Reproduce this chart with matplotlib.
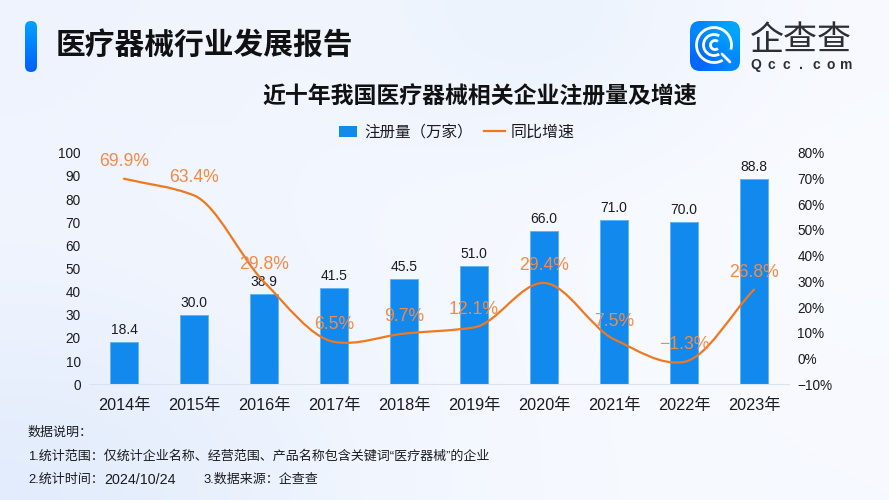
import numpy as np
import matplotlib
matplotlib.use("Agg")
import matplotlib.pyplot as plt
from matplotlib.patches import Arc, FancyBboxPatch, PathPatch, Rectangle
from matplotlib.path import Path
from matplotlib.lines import Line2D

plt.rcParams['font.family'] = ['Liberation Sans', 'Noto Sans CJK SC', 'DejaVu Sans']

years = ["2014年", "2015年", "2016年", "2017年", "2018年", "2019年", "2020年", "2021年", "2022年", "2023年"]
registered = [18.4, 30.0, 38.9, 41.5, 45.5, 51.0, 66.0, 71.0, 70.0, 88.8]
growth = [69.9, 63.4, 29.8, 6.5, 9.7, 12.1, 29.4, 7.5, -1.3, 26.8]
growth_labels = ["69.9%", "63.4%", "29.8%", "6.5%", "9.7%", "12.1%", "29.4%", "7.5%", "−1.3%", "26.8%"]
left_ticks = [0, 10, 20, 30, 40, 50, 60, 70, 80, 90, 100]
right_ticks = [-10, 0, 10, 20, 30, 40, 50, 60, 70, 80]
right_tick_labels = ["−10%", "0%", "10%", "20%", "30%", "40%", "50%", "60%", "70%", "80%"]

W, H = 889, 500
BAR_COLOR = "#1289ec"
LINE_COLOR = "#f0781f"
LABEL_ORANGE = "#f58a45"
INK = "#1c1c1e"


# smooth line through the values, drawn as bezier segments
def smooth_path(ys):
    ys = np.array(ys, dtype=float)
    d = np.diff(ys)
    m = np.zeros(len(ys))
    m[0] = d[0]
    m[-1] = d[-1]
    for i in range(1, len(ys) - 1):
        if d[i - 1] * d[i] > 0:
            m[i] = 2 * d[i - 1] * d[i] / (d[i - 1] + d[i])
        else:
            m[i] = (d[i - 1] + d[i]) / 4
    verts = [(0, ys[0])]
    codes = [Path.MOVETO]
    for i in range(len(ys) - 1):
        verts.append((i + 1 / 3, ys[i] + m[i] / 3))
        verts.append((i + 2 / 3, ys[i + 1] - m[i + 1] / 3))
        verts.append((i + 1, ys[i + 1]))
        codes += [Path.CURVE4, Path.CURVE4, Path.CURVE4]
    return Path(verts, codes)


fig = plt.figure(figsize=(W / 100, H / 100), dpi=100)

# page layer in pixel coordinates: background, header, logo, notes
page = fig.add_axes([0, 0, 1, 1], zorder=0)
page.set_xlim(0, W)
page.set_ylim(H, 0)
page.axis("off")

bg = np.array([
    [[238, 243, 254], [243, 247, 254], [232, 240, 253], [248, 250, 255]],
    [[240, 245, 254], [243, 247, 254], [246, 249, 255], [249, 251, 255]],
    [[238, 243, 254], [242, 246, 254], [246, 249, 255], [248, 250, 255]],
    [[226, 236, 252], [240, 245, 254], [246, 249, 255], [247, 250, 255]],
]) / 255
page.imshow(bg, extent=(0, W, H, 0), aspect="auto", interpolation="bicubic", zorder=0)

# title pill
pill = FancyBboxPatch((25, 21), 12, 51, boxstyle="round,pad=0,rounding_size=6", fc="none", ec="none", zorder=2)
page.add_patch(pill)
pill_img = page.imshow(np.linspace(0, 1, 64)[:, None], extent=(25, 37, 72, 21), aspect="auto", zorder=2,
                       cmap=matplotlib.colors.LinearSegmentedColormap.from_list("p", ["#00a2ff", "#0060ff"]))
pill_img.set_clip_path(pill)
page.text(56, 45, "医疗器械行业发展报告", fontsize=21.4, fontweight="bold", color="#111111", va="center", ha="left",
          family=['Noto Sans CJK SC'], zorder=3)

# logo
logo = FancyBboxPatch((690, 21), 50, 50, boxstyle="round,pad=0,rounding_size=10", fc="none", ec="none", zorder=2)
page.add_patch(logo)
logo_img = page.imshow(np.array([[0.5, 1.0], [0.0, 0.5]]), extent=(690, 740, 71, 21), aspect="auto", zorder=2,
                       interpolation="bilinear",
                       cmap=matplotlib.colors.LinearSegmentedColormap.from_list("l", ["#0068ff", "#00a4ff"]))
logo_img.set_clip_path(logo)
page.add_patch(Arc((714, 45), 35, 35, theta1=60, theta2=15, color="white", lw=2, zorder=3))
page.add_patch(Arc((714, 45), 21, 21, theta1=60, theta2=300, color="white", lw=2, zorder=3))
page.add_patch(Arc((715, 45), 9, 9, theta1=50, theta2=310, color="white", lw=2, zorder=3))
page.plot([722, 730], [54, 62], color="white", lw=2, solid_capstyle="round", zorder=3)
page.text(801, 40, "企查查", fontsize=24.5, color="#2c2f33", ha="center", va="center",
          family=['Noto Sans CJK SC'], zorder=3)
for cx, ch in zip(np.linspace(756, 846, 7), "Qcc.com"):
    page.text(cx, 65, ch, fontsize=10, fontweight="bold", color="#2c2f33", ha="center", va="center", zorder=3)

page.text(480, 97, "近十年我国医疗器械相关企业注册量及增速", fontsize=16.5, fontweight="bold", color="#111111",
          ha="center", va="center", family=['Noto Sans CJK SC'], zorder=3)

# legend
page.add_patch(Rectangle((339, 126), 18, 11, fc=BAR_COLOR, ec="none", zorder=3))
page.text(364, 132, "注册量（万家）", fontsize=11.2, color=INK, ha="left", va="center", zorder=3)
page.add_line(Line2D([484, 505], [131, 131], color=LINE_COLOR, lw=1.6, zorder=3))
page.text(511, 132, "同比增速", fontsize=11.5, color=INK, ha="left", va="center", zorder=3)

# notes
page.text(28, 433, "数据说明：", fontsize=9.4, color=INK, ha="left", va="center", zorder=3)
page.text(28, 456, "1.统计范围：仅统计企业名称、经营范围、产品名称包含关键词“医疗器械”的企业", fontsize=9.4, color=INK,
          ha="left", va="center", zorder=3)
page.text(28, 480, "2.统计时间：", fontsize=9.4, color=INK, ha="left", va="center", zorder=3)
page.text(104, 479.5, "2024/10/24", fontsize=10.3, color=INK, ha="left", va="center", zorder=3)
page.text(203, 480, "3.数据来源：企查查", fontsize=9.4, color=INK, ha="left", va="center", zorder=3)

# chart
left, right, top, bottom = 89, 789, 152.7, 384.3
ax = fig.add_axes([left / W, 1 - bottom / H, (right - left) / W, (bottom - top) / H], zorder=1)
ax.patch.set_alpha(0)
x = np.arange(len(years))
ax.bar(x, registered, width=0.4, color=BAR_COLOR, edgecolor="#63b4f6", linewidth=0.7, zorder=2)
ax.set_xlim(-0.5, 9.5)
ax.set_ylim(0, 100)
ax.set_yticks(left_ticks)
ax.set_xticks(x)
ax.set_xticklabels(years)
ax.tick_params(axis="x", length=0, labelsize=11.7, labelcolor=INK, pad=10)
ax.tick_params(axis="y", length=0, labelsize=9.8, labelcolor=INK, pad=6)
for side in ["top", "left", "right"]:
    ax.spines[side].set_visible(False)
ax.spines["bottom"].set_color("#dde3ec")

for xi, v in zip(x, registered):
    ax.annotate(f"{v:.1f}", (xi, v), xytext=(0, 8.7), textcoords="offset points", ha="center", va="center",
                fontsize=10, color=INK, zorder=5)

ax2 = ax.twinx()
ax2.patch.set_alpha(0)
ax2.set_ylim(-10, 80)
ax2.set_yticks(right_ticks)
ax2.set_yticklabels(right_tick_labels)
ax2.tick_params(axis="y", length=0, labelsize=9.8, labelcolor=INK, pad=6)
for side in ["top", "left", "right", "bottom"]:
    ax2.spines[side].set_visible(False)
ax2.add_patch(PathPatch(smooth_path(growth), fc="none", ec=LINE_COLOR, lw=1.6, capstyle="round", zorder=3))
for xi, v, lab in zip(x, growth, growth_labels):
    ax2.annotate(lab, (xi, v), xytext=(0, 12.6), textcoords="offset points", ha="center", va="center",
                 fontsize=12.7, color=LABEL_ORANGE, zorder=6)

fig.savefig("out.png", dpi=100)
